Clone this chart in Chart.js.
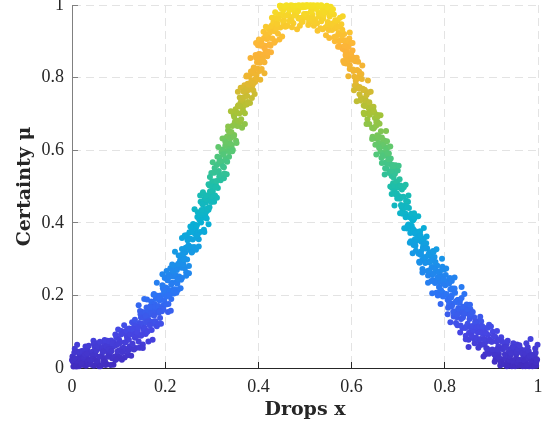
<!DOCTYPE html>
<html>
<head>
<meta charset="utf-8">
<script src="https://cdn.jsdelivr.net/npm/chart.js@4.4.1/dist/chart.umd.min.js"></script>
<style>
  html, body { margin: 0; padding: 0; background: #fff; }
  #wrap { width: 549px; height: 427px; }
</style>
</head>
<body>
<div id="wrap"><canvas id="scatterChart"></canvas></div>
<script>
// drops (x)
const dropsX = [
  0.001,0.002,0.004,0.006,0.007,0.009, 0.010,0.012,0.013,0.015,0.017,0.018,
  0.021,0.023,0.024,0.026,0.028,0.029, 0.030,0.031,0.033,0.035,0.036,0.038,
  0.041,0.042,0.044,0.046,0.047,0.049, 0.050,0.052,0.053,0.055,0.057,0.058,
  0.061,0.063,0.064,0.066,0.068,0.069, 0.070,0.071,0.073,0.075,0.076,0.078,
  0.081,0.082,0.084,0.086,0.087,0.089, 0.090,0.092,0.093,0.095,0.097,0.098,
  0.101,0.103,0.104,0.106,0.108,0.109, 0.110,0.111,0.113,0.115,0.116,0.118,
  0.121,0.122,0.124,0.126,0.127,0.129, 0.130,0.132,0.133,0.135,0.137,0.138,
  0.141,0.143,0.144,0.146,0.148,0.149, 0.150,0.151,0.153,0.155,0.156,0.158,
  0.161,0.162,0.164,0.166,0.167,0.169, 0.170,0.172,0.173,0.175,0.177,0.178,
  0.181,0.183,0.184,0.186,0.188,0.189, 0.190,0.191,0.193,0.195,0.196,0.198,
  0.201,0.202,0.204,0.206,0.207,0.209, 0.210,0.212,0.213,0.215,0.217,0.218,
  0.221,0.223,0.224,0.226,0.228,0.229, 0.230,0.231,0.233,0.235,0.236,0.238,
  0.241,0.242,0.244,0.246,0.247,0.249, 0.250,0.252,0.253,0.255,0.257,0.258,
  0.261,0.263,0.264,0.266,0.268,0.269, 0.270,0.271,0.273,0.275,0.276,0.278,
  0.281,0.282,0.284,0.286,0.287,0.289, 0.290,0.292,0.293,0.295,0.297,0.298,
  0.301,0.303,0.304,0.306,0.308,0.309, 0.310,0.311,0.313,0.315,0.316,0.318,
  0.321,0.322,0.324,0.326,0.327,0.329, 0.330,0.332,0.333,0.335,0.337,0.338,
  0.341,0.343,0.344,0.346,0.348,0.349, 0.350,0.351,0.353,0.355,0.356,0.358,
  0.361,0.362,0.364,0.366,0.367,0.369, 0.370,0.372,0.373,0.375,0.377,0.378,
  0.381,0.383,0.384,0.386,0.388,0.389, 0.390,0.391,0.393,0.395,0.396,0.398,
  0.401,0.402,0.404,0.406,0.407,0.409, 0.410,0.412,0.413,0.415,0.417,0.418,
  0.421,0.423,0.424,0.426,0.428,0.429, 0.430,0.431,0.433,0.435,0.436,0.438,
  0.441,0.442,0.444,0.446,0.447,0.449, 0.450,0.452,0.453,0.455,0.457,0.458,
  0.461,0.463,0.464,0.466,0.468,0.469, 0.470,0.471,0.473,0.475,0.476,0.478,
  0.481,0.482,0.484,0.486,0.487,0.489, 0.490,0.492,0.493,0.495,0.497,0.498,
  0.501,0.503,0.504,0.506,0.508,0.509, 0.510,0.511,0.513,0.515,0.516,0.518,
  0.521,0.522,0.524,0.526,0.527,0.529, 0.530,0.532,0.533,0.535,0.537,0.538,
  0.541,0.543,0.544,0.546,0.548,0.549, 0.550,0.551,0.553,0.555,0.556,0.558,
  0.561,0.562,0.564,0.566,0.567,0.569, 0.570,0.572,0.573,0.575,0.577,0.578,
  0.581,0.583,0.584,0.586,0.588,0.589, 0.590,0.591,0.593,0.595,0.596,0.598,
  0.601,0.602,0.604,0.606,0.607,0.609, 0.610,0.612,0.613,0.615,0.617,0.618,
  0.621,0.623,0.624,0.626,0.628,0.629, 0.630,0.631,0.633,0.635,0.636,0.638,
  0.641,0.642,0.644,0.646,0.647,0.649, 0.650,0.652,0.653,0.655,0.657,0.658,
  0.661,0.663,0.664,0.666,0.668,0.669, 0.670,0.671,0.673,0.675,0.676,0.678,
  0.681,0.682,0.684,0.686,0.687,0.689, 0.690,0.692,0.693,0.695,0.697,0.698,
  0.701,0.703,0.704,0.706,0.708,0.709, 0.710,0.711,0.713,0.715,0.716,0.718,
  0.721,0.722,0.724,0.726,0.727,0.729, 0.730,0.732,0.733,0.735,0.737,0.738,
  0.741,0.743,0.744,0.746,0.748,0.749, 0.750,0.751,0.753,0.755,0.756,0.758,
  0.761,0.762,0.764,0.766,0.767,0.769, 0.770,0.772,0.773,0.775,0.777,0.778,
  0.781,0.783,0.784,0.786,0.788,0.789, 0.790,0.791,0.793,0.795,0.796,0.798,
  0.801,0.802,0.804,0.806,0.807,0.809, 0.810,0.812,0.813,0.815,0.817,0.818,
  0.821,0.823,0.824,0.826,0.828,0.829, 0.830,0.831,0.833,0.835,0.836,0.838,
  0.841,0.842,0.844,0.846,0.847,0.849, 0.850,0.852,0.853,0.855,0.857,0.858,
  0.861,0.863,0.864,0.866,0.868,0.869, 0.870,0.871,0.873,0.875,0.876,0.878,
  0.881,0.882,0.884,0.886,0.887,0.889, 0.890,0.892,0.893,0.895,0.897,0.898,
  0.901,0.903,0.904,0.906,0.908,0.909, 0.910,0.911,0.913,0.915,0.916,0.918,
  0.921,0.922,0.924,0.926,0.927,0.929, 0.930,0.932,0.933,0.935,0.937,0.938,
  0.941,0.943,0.944,0.946,0.948,0.949, 0.950,0.951,0.953,0.955,0.956,0.958,
  0.961,0.962,0.964,0.966,0.967,0.969, 0.970,0.972,0.973,0.975,0.977,0.978,
  0.981,0.983,0.984,0.986,0.988,0.989, 0.990,0.991,0.993,0.995,0.996,0.998,
  // second pass
  0.000,0.003,0.005,0.007,0.009, 0.011,0.013,0.015,0.016,0.019,
  0.020,0.022,0.025,0.027,0.028, 0.032,0.034,0.036,0.037,0.039,
  0.040,0.043,0.045,0.047,0.049, 0.051,0.053,0.055,0.056,0.059,
  0.060,0.062,0.065,0.067,0.068, 0.072,0.074,0.076,0.077,0.079,
  0.080,0.083,0.085,0.087,0.089, 0.091,0.093,0.095,0.096,0.099,
  0.100,0.102,0.105,0.107,0.108, 0.112,0.114,0.116,0.117,0.119,
  0.120,0.123,0.125,0.127,0.129, 0.131,0.133,0.135,0.136,0.139,
  0.140,0.142,0.145,0.147,0.148, 0.152,0.154,0.156,0.157,0.159,
  0.160,0.163,0.165,0.167,0.169, 0.171,0.173,0.175,0.176,0.179,
  0.180,0.182,0.185,0.187,0.188, 0.192,0.194,0.196,0.197,0.199,
  0.200,0.203,0.205,0.207,0.209, 0.211,0.213,0.215,0.216,0.219,
  0.220,0.222,0.225,0.227,0.228, 0.232,0.234,0.236,0.237,0.239,
  0.240,0.243,0.245,0.247,0.249, 0.251,0.253,0.255,0.256,0.259,
  0.260,0.262,0.265,0.267,0.268, 0.272,0.274,0.276,0.277,0.279,
  0.280,0.283,0.285,0.287,0.289, 0.291,0.293,0.295,0.296,0.299,
  0.300,0.302,0.305,0.307,0.308, 0.312,0.314,0.316,0.317,0.319,
  0.320,0.323,0.325,0.327,0.329, 0.331,0.333,0.335,0.336,0.339,
  0.340,0.342,0.345,0.347,0.348, 0.352,0.354,0.356,0.357,0.359,
  0.360,0.363,0.365,0.367,0.369, 0.371,0.373,0.375,0.376,0.379,
  0.380,0.382,0.385,0.387,0.388, 0.392,0.394,0.396,0.397,0.399,
  0.400,0.403,0.405,0.407,0.409, 0.411,0.413,0.415,0.416,0.419,
  0.420,0.422,0.425,0.427,0.428, 0.432,0.434,0.436,0.437,0.439,
  0.440,0.443,0.445,0.447,0.449, 0.451,0.453,0.455,0.456,0.459,
  0.460,0.462,0.465,0.467,0.468, 0.472,0.474,0.476,0.477,0.479,
  0.480,0.483,0.485,0.487,0.489, 0.491,0.493,0.495,0.496,0.499,
  0.500,0.502,0.505,0.507,0.508, 0.512,0.514,0.516,0.517,0.519,
  0.520,0.523,0.525,0.527,0.529, 0.531,0.533,0.535,0.536,0.539,
  0.540,0.542,0.545,0.547,0.548, 0.552,0.554,0.556,0.557,0.559,
  0.560,0.563,0.565,0.567,0.569, 0.571,0.573,0.575,0.576,0.579,
  0.580,0.582,0.585,0.587,0.588, 0.592,0.594,0.596,0.597,0.599,
  0.600,0.603,0.605,0.607,0.609, 0.611,0.613,0.615,0.616,0.619,
  0.620,0.622,0.625,0.627,0.628, 0.632,0.634,0.636,0.637,0.639,
  0.640,0.643,0.645,0.647,0.649, 0.651,0.653,0.655,0.656,0.659,
  0.660,0.662,0.665,0.667,0.668, 0.672,0.674,0.676,0.677,0.679,
  0.680,0.683,0.685,0.687,0.689, 0.691,0.693,0.695,0.696,0.699,
  0.700,0.702,0.705,0.707,0.708, 0.712,0.714,0.716,0.717,0.719,
  0.720,0.723,0.725,0.727,0.729, 0.731,0.733,0.735,0.736,0.739,
  0.740,0.742,0.745,0.747,0.748, 0.752,0.754,0.756,0.757,0.759,
  0.760,0.763,0.765,0.767,0.769, 0.771,0.773,0.775,0.776,0.779,
  0.780,0.782,0.785,0.787,0.788, 0.792,0.794,0.796,0.797,0.799,
  0.800,0.803,0.805,0.807,0.809, 0.811,0.813,0.815,0.816,0.819,
  0.820,0.822,0.825,0.827,0.828, 0.832,0.834,0.836,0.837,0.839,
  0.840,0.843,0.845,0.847,0.849, 0.851,0.853,0.855,0.856,0.859,
  0.860,0.862,0.865,0.867,0.868, 0.872,0.874,0.876,0.877,0.879,
  0.880,0.883,0.885,0.887,0.889, 0.891,0.893,0.895,0.896,0.899,
  0.900,0.902,0.905,0.907,0.908, 0.912,0.914,0.916,0.917,0.919,
  0.920,0.923,0.925,0.927,0.929, 0.931,0.933,0.935,0.936,0.939,
  0.940,0.942,0.945,0.947,0.948, 0.952,0.954,0.956,0.957,0.959,
  0.960,0.963,0.965,0.967,0.969, 0.971,0.973,0.975,0.976,0.979,
  0.980,0.982,0.985,0.987,0.988, 0.992,0.994,0.996,0.997,0.999,
  // third pass, outer edges of the band
  0.143,0.146,0.149, 0.152,0.155,0.158, 0.161,0.164,0.167, 0.173,0.176,0.179,
  0.182,0.185,0.188, 0.191,0.194,0.197, 0.203,0.206,0.209, 0.212,0.215,0.218,
  0.221,0.224,0.227, 0.233,0.236,0.239, 0.242,0.245,0.248, 0.251,0.254,0.257,
  0.263,0.266,0.269, 0.272,0.275,0.278, 0.281,0.284,0.287, 0.293,0.296,0.299,
  0.302,0.305,0.308, 0.311,0.314,0.317, 0.323,0.326,0.329, 0.332,0.335,0.338,
  0.341,0.344,0.347, 0.353,0.356,0.359, 0.362,0.365,0.368, 0.371,0.374,0.377,
  0.383,0.386,0.389, 0.392,0.395,0.398, 0.401,0.404,0.407, 0.413,0.416,0.419,
  0.581,0.584,0.587, 0.593,0.596,0.599, 0.602,0.605,0.608, 0.611,0.614,0.617,
  0.623,0.626,0.629, 0.632,0.635,0.638, 0.641,0.644,0.647, 0.653,0.656,0.659,
  0.662,0.665,0.668, 0.671,0.674,0.677, 0.683,0.686,0.689, 0.692,0.695,0.698,
  0.701,0.704,0.707, 0.713,0.716,0.719, 0.722,0.725,0.728, 0.731,0.734,0.737,
  0.743,0.746,0.749, 0.752,0.755,0.758, 0.761,0.764,0.767, 0.773,0.776,0.779,
  0.782,0.785,0.788, 0.791,0.794,0.797, 0.803,0.806,0.809, 0.812,0.815,0.818,
  0.821,0.824,0.827, 0.833,0.836,0.839, 0.842,0.845,0.848, 0.851,0.854,0.857
];

// certainty (mu) for each drop, same order as dropsX
const certainty = [
  0.032,0.018,0.023,0.053,0.005,0.006, 0.004,0.044,0.025,0.015,0.035,0.026,
  0.046,0.017,0.008,0.012,0.028,0.059, 0.006,0.029,0.050,0.011,0.019,0.042,
  0.023,0.009,0.045,0.075,0.006,0.037, 0.037,0.068,0.019,0.010,0.061,0.005,
  0.005,0.054,0.034,0.045,0.026,0.067, 0.077,0.018,0.049,0.010,0.061,0.042,
  0.034,0.044,0.076,0.027,0.058,0.009, 0.070,0.061,0.022,0.084,0.035,0.046,
  0.078,0.030,0.071,0.102,0.054,0.045, 0.056,0.097,0.029,0.071,0.092,0.084,
  0.107,0.078,0.060,0.053,0.094,0.126, 0.067,0.099,0.121,0.083,0.055,0.117,
  0.100,0.073,0.124,0.157,0.089,0.121, 0.122,0.154,0.107,0.100,0.151,0.094,
  0.099,0.150,0.133,0.147,0.128,0.171, 0.183,0.127,0.158,0.122,0.176,0.157,
  0.153,0.167,0.199,0.152,0.186,0.138, 0.200,0.192,0.156,0.220,0.172,0.186,
  0.222,0.175,0.219,0.254,0.206,0.201, 0.213,0.258,0.190,0.235,0.260,0.252,
  0.280,0.255,0.237,0.232,0.277,0.310, 0.252,0.285,0.310,0.276,0.248,0.314,
  0.302,0.275,0.331,0.366,0.299,0.335, 0.338,0.374,0.327,0.323,0.378,0.321,
  0.330,0.387,0.370,0.386,0.373,0.416, 0.429,0.372,0.409,0.375,0.428,0.415,
  0.414,0.428,0.465,0.421,0.455,0.412, 0.475,0.472,0.436,0.503,0.460,0.473,
  0.514,0.471,0.514,0.551,0.508,0.502, 0.515,0.559,0.496,0.543,0.567,0.564,
  0.595,0.568,0.555,0.553,0.596,0.633, 0.577,0.614,0.638,0.605,0.582,0.646,
  0.637,0.614,0.667,0.705,0.642,0.675, 0.679,0.713,0.670,0.667,0.721,0.668,
  0.678,0.732,0.719,0.735,0.719,0.766, 0.779,0.726,0.759,0.726,0.783,0.766,
  0.767,0.784,0.817,0.774,0.811,0.765, 0.828,0.821,0.788,0.855,0.808,0.825,
  0.865,0.818,0.864,0.901,0.854,0.850, 0.863,0.909,0.842,0.888,0.913,0.906,
  0.935,0.910,0.892,0.888,0.933,0.965, 0.908,0.940,0.964,0.928,0.900,0.964,
  0.949,0.921,0.974,0.998,0.938,0.971, 0.972,0.996,0.955,0.947,0.993,0.940,
  0.943,0.994,0.974,0.986,0.967,0.997, 0.999,0.958,0.989,0.950,0.995,0.981,
  0.972,0.982,0.998,0.963,0.992,0.943, 0.997,0.994,0.954,0.999,0.965,0.975,
  0.995,0.999,0.975,0.964,0.996,0.954, 0.954,0.998,0.983,0.993,0.973,0.999,
  0.997,0.961,0.990,0.950,0.999,0.978, 0.968,0.977,0.998,0.955,0.984,0.933,
  0.991,0.979,0.938,0.996,0.944,0.953, 0.982,0.931,0.968,0.995,0.944,0.931,
  0.936,0.974,0.900,0.936,0.954,0.940, 0.958,0.923,0.900,0.885,0.920,0.947,
  0.879,0.903,0.920,0.875,0.839,0.896, 0.873,0.840,0.884,0.908,0.834,0.858,
  0.849,0.875,0.818,0.802,0.848,0.781, 0.778,0.821,0.798,0.801,0.774,0.810,
  0.810,0.743,0.769,0.723,0.766,0.742, 0.729,0.736,0.759,0.702,0.729,0.672,
  0.721,0.708,0.661,0.713,0.660,0.663, 0.689,0.632,0.668,0.691,0.634,0.620,
  0.619,0.652,0.579,0.611,0.624,0.611, 0.627,0.593,0.566,0.549,0.585,0.608,
  0.537,0.564,0.577,0.529,0.496,0.549, 0.525,0.488,0.535,0.558,0.481,0.507,
  0.497,0.520,0.466,0.449,0.492,0.429, 0.425,0.472,0.445,0.448,0.425,0.458,
  0.458,0.395,0.418,0.372,0.419,0.392, 0.379,0.383,0.409,0.353,0.377,0.323,
  0.374,0.358,0.315,0.370,0.314,0.321, 0.348,0.296,0.331,0.356,0.304,0.289,
  0.292,0.330,0.255,0.291,0.309,0.294, 0.312,0.278,0.256,0.242,0.278,0.306,
  0.240,0.265,0.282,0.238,0.203,0.260, 0.238,0.206,0.253,0.279,0.207,0.234,
  0.228,0.256,0.202,0.188,0.236,0.172, 0.170,0.216,0.194,0.200,0.177,0.215,
  0.219,0.156,0.184,0.140,0.187,0.165, 0.153,0.161,0.188,0.135,0.163,0.110,
  0.165,0.154,0.110,0.167,0.115,0.122, 0.150,0.097,0.135,0.162,0.109,0.097,
  0.103,0.140,0.068,0.105,0.122,0.111, 0.129,0.098,0.075,0.063,0.101,0.129,
  0.065,0.094,0.111,0.069,0.038,0.095, 0.074,0.042,0.091,0.119,0.046,0.075,
  0.072,0.100,0.049,0.038,0.086,0.025, 0.024,0.073,0.052,0.060,0.039,0.078,
  0.085,0.024,0.052,0.011,0.060,0.038, 0.027,0.036,0.066,0.015,0.044,0.007,
  0.052,0.041,0.005,0.059,0.008,0.018, 0.047,0.005,0.036,0.065,0.015,0.006,
  0.013,0.053,0.017,0.022,0.041,0.031, 0.049,0.018,0.005,0.012,0.027,0.057,
  0.005,0.026,0.080,0.006,0.024,0.035, 0.014,0.016,0.034,0.042,0.006,0.023,
  // second pass
  0.022,0.004,0.043,0.027,0.006, 0.064,0.015,0.005,0.045,0.024,
  0.014,0.047,0.028,0.032,0.038, 0.040,0.019,0.061,0.022,0.013,
  0.023,0.034,0.025,0.066,0.057, 0.022,0.049,0.020,0.060,0.031,
  0.072,0.006,0.055,0.016,0.046, 0.008,0.059,0.075,0.031,0.052,
  0.073,0.008,0.047,0.068,0.029, 0.031,0.092,0.024,0.064,0.106,
  0.067,0.049,0.092,0.023,0.044, 0.118,0.070,0.052,0.103,0.035,
  0.046,0.109,0.092,0.034,0.106, 0.108,0.051,0.133,0.094,0.088,
  0.099,0.112,0.056,0.148,0.139, 0.065,0.138,0.111,0.153,0.126,
  0.167,0.102,0.155,0.118,0.151, 0.105,0.168,0.202,0.144,0.169,
  0.191,0.115,0.171,0.194,0.156, 0.164,0.228,0.162,0.204,0.248,
  0.210,0.197,0.242,0.176,0.201, 0.275,0.230,0.215,0.267,0.205,
  0.217,0.282,0.270,0.215,0.287, 0.297,0.243,0.328,0.291,0.286,
  0.299,0.318,0.264,0.359,0.355, 0.281,0.357,0.333,0.375,0.354,
  0.397,0.333,0.393,0.359,0.393, 0.355,0.422,0.458,0.401,0.428,
  0.451,0.381,0.438,0.465,0.432, 0.439,0.506,0.443,0.486,0.537,
  0.500,0.487,0.538,0.475,0.498, 0.582,0.539,0.527,0.580,0.517,
  0.531,0.602,0.589,0.536,0.613, 0.621,0.568,0.655,0.619,0.619,
  0.633,0.650,0.601,0.698,0.692, 0.626,0.703,0.681,0.724,0.701,
  0.745,0.685,0.742,0.709,0.746, 0.702,0.769,0.806,0.749,0.780,
  0.803,0.730,0.791,0.818,0.781, 0.795,0.862,0.798,0.842,0.889,
  0.852,0.841,0.888,0.824,0.850, 0.926,0.881,0.868,0.920,0.859,
  0.872,0.937,0.925,0.870,0.943, 0.952,0.896,0.980,0.942,0.936,
  0.948,0.962,0.905,0.998,0.991, 0.913,0.985,0.957,0.996,0.971,
  0.999,0.943,0.995,0.956,0.987, 0.939,0.998,0.997,0.971,0.992,
  0.998,0.933,0.983,0.999,0.964, 0.964,0.997,0.954,0.994,0.998,
  0.995,0.975,0.999,0.945,0.965, 0.999,0.983,0.963,0.996,0.943,
  0.952,0.998,0.990,0.929,0.997, 0.997,0.936,0.999,0.974,0.963,
  0.972,0.980,0.917,0.998,0.994, 0.909,0.976,0.944,0.982,0.949,
  0.988,0.912,0.958,0.914,0.940, 0.885,0.940,0.965,0.902,0.915,
  0.932,0.846,0.888,0.902,0.859, 0.847,0.900,0.824,0.861,0.895,
  0.852,0.822,0.855,0.778,0.791, 0.855,0.798,0.771,0.817,0.737,
  0.743,0.796,0.766,0.699,0.766, 0.752,0.685,0.759,0.715,0.698,
  0.705,0.704,0.637,0.720,0.703, 0.615,0.678,0.641,0.677,0.637,
  0.673,0.596,0.635,0.588,0.614, 0.550,0.603,0.625,0.562,0.575,
  0.591,0.500,0.543,0.556,0.509, 0.502,0.555,0.478,0.514,0.544,
  0.500,0.473,0.503,0.426,0.442, 0.498,0.441,0.415,0.461,0.384,
  0.391,0.441,0.415,0.349,0.412, 0.406,0.339,0.413,0.370,0.350,
  0.357,0.361,0.293,0.377,0.364, 0.273,0.338,0.304,0.341,0.306,
  0.344,0.267,0.313,0.269,0.294, 0.240,0.296,0.322,0.260,0.274,
  0.292,0.207,0.250,0.265,0.223, 0.214,0.271,0.197,0.235,0.272,
  0.230,0.204,0.240,0.166,0.182, 0.248,0.194,0.170,0.219,0.142,
  0.151,0.207,0.182,0.118,0.187, 0.180,0.117,0.193,0.152,0.139,
  0.147,0.152,0.089,0.175,0.162, 0.078,0.145,0.112,0.150,0.116,
  0.154,0.081,0.127,0.084,0.112, 0.056,0.114,0.141,0.080,0.097,
  0.116,0.032,0.080,0.098,0.055, 0.053,0.111,0.039,0.078,0.114,
  0.073,0.051,0.088,0.017,0.036, 0.102,0.051,0.029,0.078,0.007,
  0.016,0.073,0.052,0.010,0.058, 0.057,0.005,0.075,0.034,0.023,
  0.032,0.041,0.020,0.068,0.058, 0.024,0.045,0.015,0.054,0.023,
  0.063,0.008,0.041,0.005,0.029, 0.021,0.039,0.068,0.009,0.028,
  0.046,0.034,0.016,0.036,0.005, 0.006,0.054,0.016,0.024,0.064,
  // third pass, outer edges of the band
  0.173,0.057,0.091, 0.055,0.190,0.144, 0.189,0.073,0.168, 0.078,0.204,0.129,
  0.235,0.121,0.156, 0.122,0.258,0.214, 0.267,0.154,0.251, 0.158,0.285,0.212,
  0.320,0.207,0.245, 0.220,0.358,0.316, 0.365,0.254,0.352, 0.261,0.390,0.318,
  0.437,0.326,0.366, 0.335,0.475,0.435, 0.484,0.375,0.475, 0.396,0.526,0.457,
  0.567,0.458,0.498, 0.469,0.609,0.570, 0.632,0.523,0.623, 0.534,0.665,0.596,
  0.707,0.597,0.638, 0.620,0.761,0.721, 0.772,0.662,0.762, 0.672,0.803,0.733,
  0.854,0.744,0.785, 0.755,0.895,0.855, 0.905,0.794,0.894, 0.812,0.940,0.869,
  0.969,0.840,0.862, 0.804,0.924,0.865, 0.895,0.765,0.845, 0.735,0.844,0.754,
  0.833,0.703,0.722, 0.672,0.792,0.732, 0.761,0.631,0.710, 0.588,0.697,0.607,
  0.696,0.565,0.584, 0.533,0.653,0.592, 0.610,0.479,0.559, 0.448,0.558,0.467,
  0.557,0.426,0.446, 0.385,0.505,0.444, 0.475,0.345,0.425, 0.316,0.426,0.337,
  0.418,0.290,0.311, 0.263,0.386,0.329, 0.362,0.235,0.319, 0.206,0.320,0.234,
  0.327,0.200,0.223, 0.176,0.301,0.245, 0.274,0.148,0.232, 0.126,0.240,0.155,
  0.249,0.124,0.148, 0.098,0.223,0.169, 0.204,0.079,0.163, 0.058,0.174,0.089
];

const xTicks = [0, 0.2, 0.4, 0.6, 0.8, 1];
const yTicks = [0, 0.2, 0.4, 0.6, 0.8, 1];
const xTitle = "Drops x";
const yTitle = "Certainty \u03bc";

// parula-like colour stops, certainty -> rgb
const colorStops = [
  [0.00, [66, 44, 190]],
  [0.10, [70, 70, 228]],
  [0.20, [45, 115, 245]],
  [0.30, [25, 148, 232]],
  [0.40, [8, 176, 212]],
  [0.50, [30, 190, 170]],
  [0.60, [90, 200, 115]],
  [0.70, [165, 195, 55]],
  [0.80, [238, 182, 48]],
  [0.88, [253, 178, 58]],
  [0.95, [248, 205, 45]],
  [1.00, [245, 225, 35]],
];

function parula(v) {
  if (v <= colorStops[0][0]) return "rgb(" + colorStops[0][1].join(",") + ")";
  for (let i = 1; i < colorStops.length; i++) {
    const [v1, c1] = colorStops[i];
    const [v0, c0] = colorStops[i - 1];
    if (v <= v1) {
      const t = (v - v0) / (v1 - v0);
      const c = c0.map((a, k) => Math.round(a + (c1[k] - a) * t));
      return "rgb(" + c.join(",") + ")";
    }
  }
  return "rgb(" + colorStops[colorStops.length - 1][1].join(",") + ")";
}

document.addEventListener("DOMContentLoaded", function () {
  const ctx = document.getElementById("scatterChart").getContext("2d");
  const points = dropsX.map((x, i) => ({ x: x, y: certainty[i] }));

  const tickFont = { family: "'Liberation Serif', 'Times New Roman', serif", size: 18 };
  const titleFont = { family: "'DejaVu Serif', serif", size: 19, weight: "bold" };

  new Chart(ctx, {
    type: "scatter",
    data: {
      datasets: [
        {
          data: points,
          pointRadius: 3,
          pointBorderWidth: 0,
          pointBackgroundColor: (c) => parula(c.raw ? c.raw.y : 0),
          pointHoverRadius: 3,
          clip: false,
        },
      ],
    },
    options: {
      responsive: true,
      maintainAspectRatio: false,
      animation: false,
      events: [],
      layout: { padding: { top: 5, right: 11, left: 0, bottom: 0 } },
      plugins: { legend: { display: false }, tooltip: { enabled: false } },
      scales: {
        x: {
          type: "linear",
          min: 0,
          max: 1,
          afterBuildTicks: (s) => { s.ticks = xTicks.map((v) => ({ value: v })); },
          afterFit: (s) => { s.height = 59; s.paddingLeft = 0; s.paddingRight = 0; },
          ticks: { font: tickFont, color: "#262626", padding: 14, maxRotation: 0,
                   callback: (v) => String(v) },
          grid: { color: "#e3e3e3", lineWidth: 1, tickLength: -6, tickColor: "#262626" },
          border: { display: true, color: "#262626", width: 1, dash: [8, 5] },
          title: { display: true, text: xTitle, font: titleFont, color: "#262626",
                   padding: { top: 0, bottom: 6 } },
        },
        y: {
          type: "linear",
          min: 0,
          max: 1,
          afterBuildTicks: (s) => { s.ticks = yTicks.map((v) => ({ value: v })); },
          afterFit: (s) => { s.width = 72; s.paddingTop = 0; s.paddingBottom = 0; },
          ticks: { font: tickFont, color: "#262626", padding: 14,
                   callback: (v) => String(v) },
          grid: { color: "#e3e3e3", lineWidth: 1, tickLength: -6, tickColor: "#808080" },
          border: { display: true, color: "#808080", width: 1, dash: [8, 5] },
          title: { display: true, text: yTitle, font: titleFont, color: "#262626",
                   padding: { top: 14, bottom: 14 } },
        },
      },
    },
  });
});
</script>
</body>
</html>
